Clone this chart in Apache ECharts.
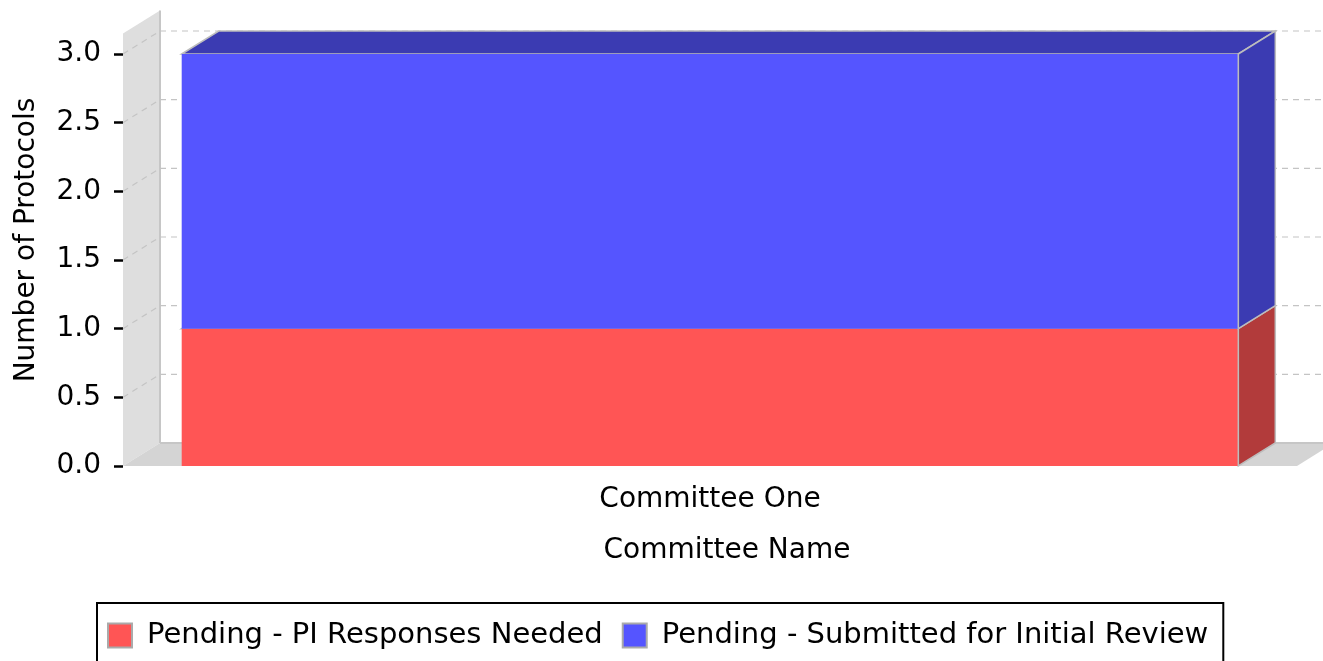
<!DOCTYPE html>
<html><head><meta charset="utf-8">
<script src="https://cdn.jsdelivr.net/npm/echarts@6/dist/echarts.min.js"></script>
<style>html,body{margin:0;padding:0;background:#fff}#c{width:1323px;height:661px}</style>
</head><body><div id="c"></div>
<script>
// ---- data ----
const categories = ['Committee One'];
const seriesNames = ['Pending - PI Responses Needed', 'Pending - Submitted for Initial Review'];
const piResponsesNeeded = [1];
const submittedForInitialReview = [2];
const yTicks = [0, 0.5, 1.0, 1.5, 2.0, 2.5, 3.0];
const yAxisName = 'Number of Protocols';
const xAxisName = 'Committee Name';

// ---- style ----
const DX = 37, DY = -23;          // 3D depth offset
const WALL_TOP = 3.15;            // axis upper margin shown by the wall
const FONT = 'DejaVu Sans';
const FS = 28;
const faceColors = [
  { front: '#FF5555', side: '#B23B3B' },
  { front: '#5555FF', side: '#3B3BB2' }
];
const EDGE = '#bdbdbd';

// stacking
const raw = [piResponsesNeeded, submittedForInitialReview];
const stackData = [];
const acc = categories.map(() => 0);
raw.forEach((arr) => {
  const d = arr.map((v, i) => { const b = acc[i]; acc[i] += v; return [i, b, acc[i]]; });
  stackData.push(d);
});

function renderBack(params, api) {
  const cs = params.coordSys;
  const x0 = cs.x, x1 = cs.x + cs.width;
  const y0 = api.coord([0, 0])[1];
  const yt = api.coord([0, WALL_TOP])[1];
  const ch = [];
  ch.push({ type: 'polygon', shape: { points: [[x0, y0], [x0 + DX, y0 + DY], [x0 + DX, yt + DY], [x0, yt]] },
    style: { fill: '#dedede' } });
  ch.push({ type: 'polygon', shape: { points: [[x0, y0], [x1, y0], [x1 + DX, y0 + DY], [x0 + DX, y0 + DY]] },
    style: { fill: '#d4d4d4' } });
  ch.push({ type: 'line', shape: { x1: x0 + DX, y1: yt + DY, x2: x0 + DX, y2: y0 + DY },
    style: { stroke: '#c6c6c6', lineWidth: 2 } });
  ch.push({ type: 'line', shape: { x1: x0 + DX, y1: y0 + DY, x2: x1 + DX, y2: y0 + DY },
    style: { stroke: '#c6c6c6', lineWidth: 2 } });
  yTicks.forEach((v) => {
    if (v === 0) return;
    const y = api.coord([0, v])[1];
    ch.push({ type: 'line', shape: { x1: x0, y1: y, x2: x0 + DX, y2: y + DY },
      style: { stroke: '#c4c4c4', lineWidth: 1.2, lineDash: [6, 5] } });
    ch.push({ type: 'line', shape: { x1: x0 + DX, y1: y + DY, x2: x1 + DX + 40, y2: y + DY },
      style: { stroke: '#c4c4c4', lineWidth: 1.2, lineDash: [6, 5] } });
  });
  return { type: 'group', children: ch };
}

function makeBarRender(ci) {
  return function (params, api) {
    const c = api.value(0), b = api.value(1), t = api.value(2);
    const pB = api.coord([c, b]), pT = api.coord([c, t]);
    const w = api.size([1, 0])[0] * 0.9;
    const xl = pB[0] - w / 2, xr = pB[0] + w / 2;
    const yb = pB[1], ytp = pT[1];
    const col = faceColors[ci];
    return { type: 'group', children: [
      { type: 'polygon', shape: { points: [[xl, ytp], [xl + DX, ytp + DY], [xr + DX, ytp + DY], [xr, ytp]] },
        style: { fill: col.side, stroke: EDGE, lineWidth: 1.5 } },
      { type: 'polygon', shape: { points: [[xr, ytp], [xr + DX, ytp + DY], [xr + DX, yb + DY], [xr, yb]] },
        style: { fill: col.side, stroke: EDGE, lineWidth: 1.5 } },
      { type: 'rect', shape: { x: xl, y: ytp, width: w, height: yb - ytp },
        style: { fill: col.front } },
      { type: 'line', shape: { x1: xr, y1: ytp, x2: xr, y2: yb }, style: { stroke: EDGE, lineWidth: 1.5 } }
    ] };
  };
}

const chart = echarts.init(document.getElementById('c'));
chart.setOption({
  animation: false,
  backgroundColor: '#fff',
  textStyle: { fontFamily: FONT },
  grid: { left: 123, right: 26, top: 54, bottom: 195, containLabel: false },
  xAxis: {
    type: 'category', data: categories,
    axisLine: { show: false }, axisTick: { show: false }, splitLine: { show: false },
    axisLabel: { color: '#000', fontSize: FS, fontFamily: FONT, margin: 20 },
    name: xAxisName, nameLocation: 'middle', nameGap: 71,
    nameTextStyle: { color: '#000', fontSize: FS, fontFamily: FONT, padding: [0, 0, 0, 34] }
  },
  yAxis: {
    type: 'value', min: 0, max: 3, interval: 0.5,
    axisLine: { show: false }, splitLine: { show: false },
    axisTick: { show: true, length: 9, lineStyle: { color: '#000', width: 2.5 } },
    axisLabel: { color: '#000', fontSize: FS, fontFamily: FONT, margin: 22, formatter: (v) => v.toFixed(1) },
    name: yAxisName, nameLocation: 'middle', nameGap: 82,
    nameTextStyle: { color: '#000', fontSize: FS, fontFamily: FONT, padding: [0, 0, 0, 40] }
  },
  legend: {
    left: 97, top: 603, orient: 'horizontal',
    itemWidth: 24, itemHeight: 24, itemGap: 19,
    padding: [18, 15, 40, 10],
    borderColor: '#000', borderWidth: 2,
    textStyle: { color: '#000', fontSize: 29, fontFamily: FONT, padding: [0, 0, 0, 10] },
    data: seriesNames.map((n, i) => ({ name: n, icon: 'rect',
      itemStyle: { color: faceColors[i].front, borderColor: '#aaaaaa', borderWidth: 2 } }))
  },
  series: [
    { type: 'custom', name: '__back', silent: true, z: 1, renderItem: renderBack, data: [[0]], encode: { x: 0 } },
    ...stackData.map((d, i) => ({
      type: 'custom', name: seriesNames[i], z: 2 + i,
      itemStyle: { color: faceColors[i].front },
      renderItem: makeBarRender(i), data: d, encode: { x: 0, y: [1, 2] }
    }))
  ]
});
</script></body></html>
